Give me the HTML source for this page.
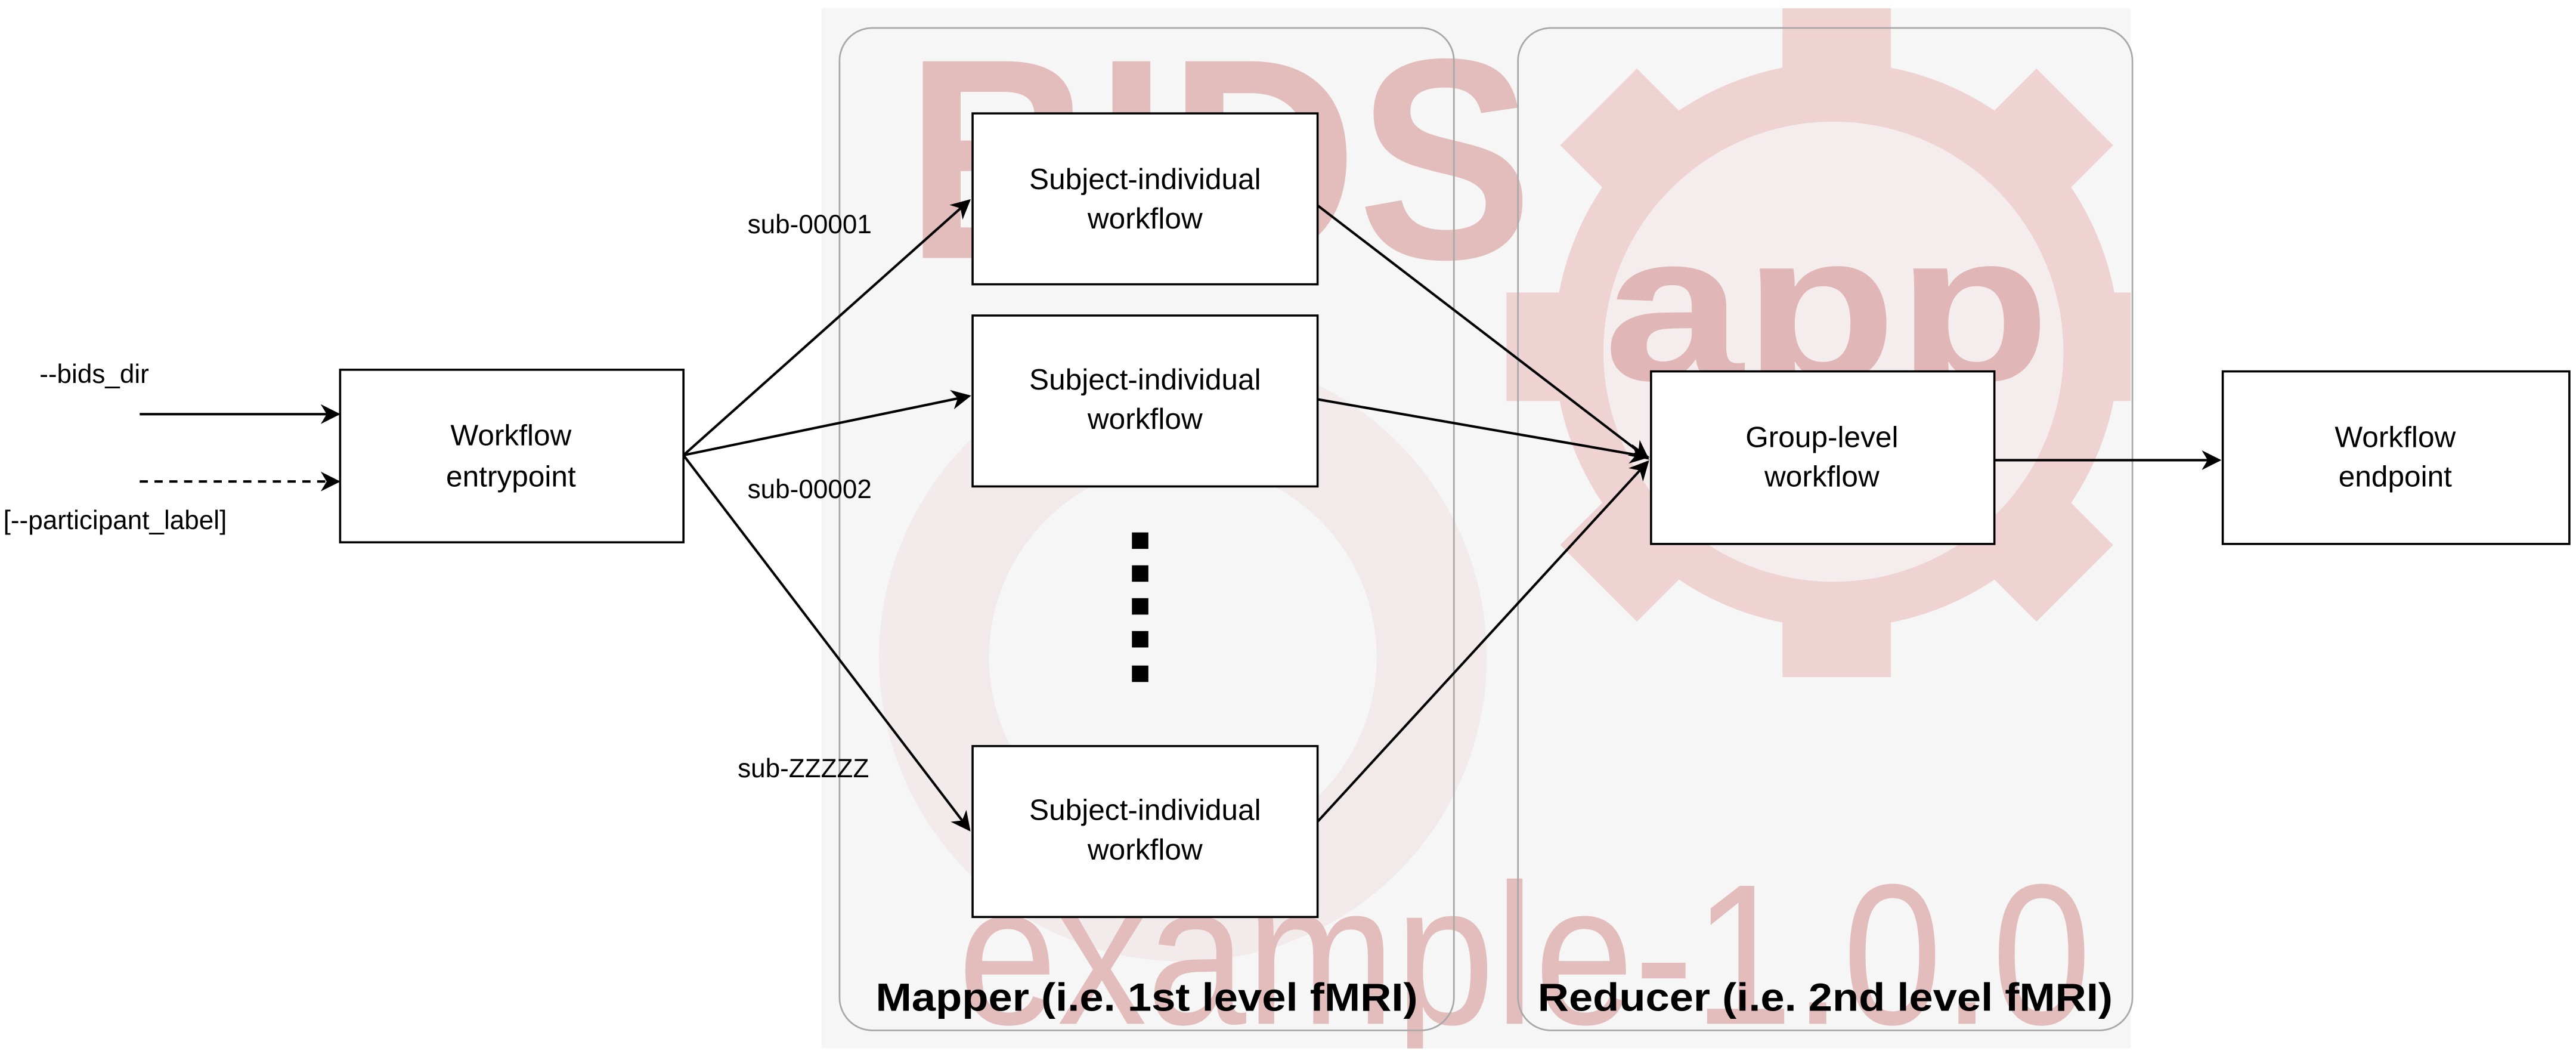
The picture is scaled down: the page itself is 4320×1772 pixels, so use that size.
<!DOCTYPE html>
<html><head><meta charset="utf-8">
<style>
html,body{margin:0;padding:0;background:#fff;}
svg{display:block;}
text{font-family:"Liberation Sans",Arial,sans-serif;}
</style></head>
<body>
<svg width="4320" height="1772" viewBox="0 0 1568 643.2" xmlns="http://www.w3.org/2000/svg">
<defs>
<marker id="ah2" viewBox="0 0 10 10" refX="9" refY="5" markerWidth="12" markerHeight="12" markerUnits="userSpaceOnUse" orient="auto">
<path d="M0,0 L10,5 L0,10 L3,5 z" fill="#000"/>
</marker>
<clipPath id="panelclip"><rect x="500" y="5" width="797" height="633"/></clipPath>
</defs>

<rect x="500" y="5" width="797" height="633" fill="#f6f6f6"/>

<g clip-path="url(#panelclip)">
  <g opacity="0.3">
    <circle cx="720" cy="400" r="185" fill="#ecd0d0"/>
    <circle cx="720" cy="400" r="118" fill="#f6f6f6"/>
  </g>
  <g>
    <g fill="#efd3d3">
      <circle cx="1118" cy="210" r="172"/>
      <rect x="1085" y="5" width="66" height="60"/>
      <rect x="1085" y="355" width="66" height="57"/>
      <rect x="917" y="178" width="60" height="66"/>
      <rect x="1262" y="178" width="60" height="66"/>
      <rect x="1085" y="5" width="66" height="60" transform="rotate(45 1118 210)"/>
      <rect x="1085" y="5" width="66" height="60" transform="rotate(-45 1118 210)"/>
      <rect x="1085" y="5" width="66" height="60" transform="rotate(135 1118 210)"/>
      <rect x="1085" y="5" width="66" height="60" transform="rotate(-135 1118 210)"/>
    </g>
    <circle cx="1116" cy="214" r="140" fill="#f5eded"/>
    <text x="1112" y="231" font-size="128" font-weight="bold" text-anchor="middle" fill="#e0b6b6" textLength="272" lengthAdjust="spacingAndGlyphs">app</text>
  </g>
  <text x="551" y="157" font-size="174" font-weight="bold" fill="#e3bcbc" textLength="382" lengthAdjust="spacingAndGlyphs">BIDS</text>
  <text x="583" y="623" font-size="122" fill="#e3bcbc" textLength="690" lengthAdjust="spacingAndGlyphs">example-1.0.0</text>
</g>

<rect x="511" y="17" width="374" height="610" rx="20" fill="none" stroke="#a8a8a8" stroke-width="1"/>
<rect x="924" y="17" width="374" height="610" rx="20" fill="none" stroke="#a8a8a8" stroke-width="1"/>
<text x="698" y="615" font-size="24" font-weight="bold" text-anchor="middle" textLength="330" lengthAdjust="spacingAndGlyphs">Mapper (i.e. 1st level fMRI)</text>
<text x="1111" y="615" font-size="24" font-weight="bold" text-anchor="middle" textLength="350" lengthAdjust="spacingAndGlyphs">Reducer (i.e. 2nd level fMRI)</text>

<g fill="#fff" stroke="#000" stroke-width="1.3">
  <rect x="207" y="225" width="209" height="105"/>
  <rect x="592" y="69" width="210" height="104"/>
  <rect x="592" y="192" width="210" height="104"/>
  <rect x="592" y="454" width="210" height="104"/>
  <rect x="1005" y="226" width="209" height="105"/>
  <rect x="1353" y="226" width="211" height="105"/>
</g>

<g font-size="18" text-anchor="middle" fill="#000">
  <text x="311" y="271">Workflow</text>
  <text x="311" y="296">entrypoint</text>
  <text x="697" y="115">Subject-individual</text>
  <text x="697" y="139">workflow</text>
  <text x="697" y="237">Subject-individual</text>
  <text x="697" y="261">workflow</text>
  <text x="697" y="499">Subject-individual</text>
  <text x="697" y="523">workflow</text>
  <text x="1109" y="272">Group-level</text>
  <text x="1109" y="296">workflow</text>
  <text x="1458" y="272">Workflow</text>
  <text x="1458" y="296">endpoint</text>
</g>
<g font-size="16" fill="#000">
  <text x="24" y="233">--bids_dir</text>
  <text x="2" y="322">[--participant_label]</text>
  <text x="455" y="142">sub-00001</text>
  <text x="455" y="303">sub-00002</text>
  <text x="449" y="473">sub-ZZZZZ</text>
</g>

<g stroke="#000" stroke-width="1.5" fill="none">
  <line x1="85" y1="252" x2="206" y2="252" marker-end="url(#ah2)"/>
  <line x1="85" y1="293" x2="206" y2="293" stroke-dasharray="5,4" marker-end="url(#ah2)"/>
  <line x1="416" y1="277" x2="590" y2="122" marker-end="url(#ah2)"/>
  <line x1="416" y1="277" x2="590" y2="241" marker-end="url(#ah2)"/>
  <line x1="416" y1="277" x2="590" y2="505" marker-end="url(#ah2)"/>
  <line x1="802" y1="125" x2="1003" y2="279" marker-end="url(#ah2)"/>
  <line x1="802" y1="243" x2="1003" y2="278" marker-end="url(#ah2)"/>
  <line x1="802" y1="500" x2="1003" y2="281" marker-end="url(#ah2)"/>
  <line x1="1214" y1="280" x2="1351" y2="280" marker-end="url(#ah2)"/>
</g>

<g fill="#000">
  <rect x="689" y="324" width="10" height="10"/>
  <rect x="689" y="344" width="10" height="10"/>
  <rect x="689" y="364" width="10" height="10"/>
  <rect x="689" y="384" width="10" height="10"/>
  <rect x="689" y="405" width="10" height="10"/>
</g>
</svg>
</body></html>
